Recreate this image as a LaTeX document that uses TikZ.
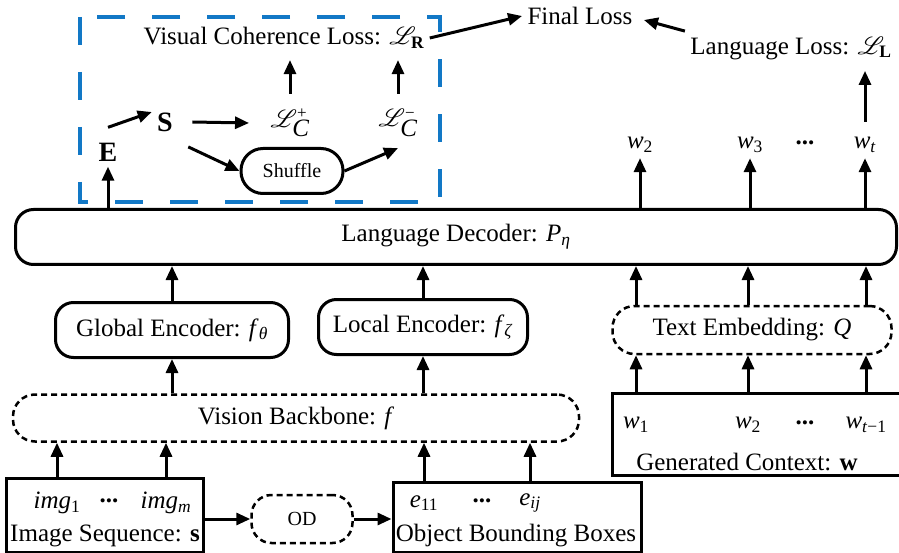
\documentclass[tikz,border=0pt]{standalone}
\usepackage{fontspec}
\setmainfont{Liberation Serif}
\usepackage{mathrsfs}
\usetikzlibrary{arrows.meta,positioning}
\definecolor{boxblue}{RGB}{18,120,198}
\newcommand{\itsub}[2]{\textit{#1}\textsubscript{#2}}
\newcommand{\lossC}[1]{$\mathscr{L}^{\raisebox{-1pt}{\fontsize{17}{17}\selectfont #1}}_{\textit{C}}$}

\begin{document}
\begin{tikzpicture}[x=1pt,y=-1pt,line width=3pt,
  >={Triangle[length=14pt,width=12pt]},
  every node/.style={font=\fontsize{25}{29}\selectfont,inner sep=4pt},
  block/.style={draw,rounded corners=18pt,minimum height=55pt},
  dblock/.style={draw,rounded corners=22pt,line width=2.5pt,dash pattern=on 6pt off 4pt,minimum height=48pt},
  sblock/.style={draw,line width=3pt,inner sep=0pt},
  small/.style={font=\fontsize{20}{24}\selectfont}]
\useasboundingbox (0,0) rectangle (899,553);

\draw[boxblue,line width=4pt,dash pattern=on 28pt off 27pt] (80,17) rectangle (440,202);

\node[block,minimum width=881pt] (dec) at (456,237) {Language Decoder: \itsub{P}{\textit{η}}};
\node[block,minimum width=233pt] (glob_enc) at (172,330) {Global Encoder: \itsub{f}{\textit{θ}}};
\node[block,minimum width=209pt] (loc_enc) at (423,327) {Local Encoder: \itsub{f}{\textit{ζ}}};
\node[dblock,minimum width=279pt] (txt_emb) at (752,330) {Text Embedding: \textit{Q}};
\node[dblock,minimum width=566pt,minimum height=47pt] (vis_bb) at (296,418) {Vision Backbone: \textit{f}};
\node[dblock,small,minimum width=101pt,rounded corners=20pt] (od) at (302,519) {OD};

\node[sblock,minimum width=197pt,minimum height=74pt] (img_seq) at (105,515) {};
\node (img_1) at (57,503) {\itsub{img}{1}};
\node (img_dots) at (109,501) {\textbf{...}};
\node (img_m) at (166,503) {\itsub{img}{\textit{m}}};
\node (img_lbl) at (105,536) {Image Sequence: \textbf{s}};

\node[sblock,minimum width=248pt,minimum height=70pt] (obj_box) at (517,517) {};
\node (e_11) at (424,503) {\itsub{e}{11}};
\node (e_dots) at (482,501) {\textbf{...}};
\node (e_ij) at (530,503) {\itsub{e}{\textit{ij}}};
\node (obj_lbl) at (516,536) {Object Bounding Boxes};

\node[sblock,minimum width=320pt,minimum height=82pt] (gen_ctx) at (772,434) {};
\node (ctx_1) at (636,425) {\itsub{w}{1}};
\node (ctx_2) at (748,425) {\itsub{w}{2}};
\node (ctx_dots) at (805,423) {\textbf{...}};
\node (ctx_t) at (866,425) {\itsub{w}{\textit{t}−1}};
\node (ctx_lbl) at (747,462) {Generated Context: \textbf{w}};

\node (out_2) at (640,145) {\itsub{w}{2}};
\node (out_3) at (750,145) {\itsub{w}{3}};
\node (out_dots) at (805,143) {\textbf{...}};
\node (out_t) at (865,145) {\itsub{w}{\textit{t}}};
\node (lang_loss) at (791,48) {Language Loss: $\mathscr{L}_{\mathbf{L}}$};
\node (final) at (580,16) {Final Loss};
\node (vcl) at (284,38) {Visual Coherence Loss: $\mathscr{L}_{\mathbf{R}}$};

\node[font=\fontsize{28}{32}\selectfont\bfseries] (E) at (108,152) {E};
\node[font=\fontsize{28}{32}\selectfont\bfseries] (S) at (165,122) {S};
\node (lc_pos) at (290,123) {\lossC{+}};
\node (lc_neg) at (398,123) {\lossC{−}};
\node[block,small,minimum width=102pt,minimum height=45pt,rounded corners=22pt] (shuffle) at (292,171) {Shuffle};

\path[->]
  (img_seq.north -| img_1) edge (vis_bb.south -| img_1)
  (img_seq.north -| img_m) edge (vis_bb.south -| img_m)
  (obj_box.north -| e_11) edge (vis_bb.south -| e_11)
  (obj_box.north -| e_ij) edge (vis_bb.south -| e_ij)
  (img_seq.east |- od) edge (od)
  (od) edge (obj_box.west |- od)
  (vis_bb.north -| glob_enc) edge (glob_enc)
  (vis_bb.north -| loc_enc) edge (loc_enc)
  (glob_enc) edge (dec.south -| glob_enc)
  (loc_enc) edge (dec.south -| loc_enc)
  (gen_ctx.north -| ctx_1) edge (txt_emb.south -| ctx_1)
  (gen_ctx.north -| ctx_2) edge (txt_emb.south -| ctx_2)
  (gen_ctx.north -| ctx_t) edge (txt_emb.south -| ctx_t)
  (txt_emb.north -| ctx_1) edge (dec.south -| ctx_1)
  (txt_emb.north -| ctx_2) edge (dec.south -| ctx_2)
  (txt_emb.north -| ctx_t) edge (dec.south -| ctx_t)
  (dec.north -| out_2) edge (out_2)
  (dec.north -| out_3) edge (out_3)
  (dec.north -| out_t) edge (out_t)
  (dec.north -| E) edge (E)
  ([yshift=10pt]out_t.north) edge ([yshift=-6pt]lang_loss.south -| out_t.north)
  (lang_loss.north west) edge ([shift={(6pt,-4pt)}]final.east)
  (vcl.east) edge (final.west)
  ([yshift=10pt]E.north) edge ([yshift=10pt]S.west)
  ([xshift=14pt]S.east) edge ([xshift=-16pt]lc_pos.west)
  ([shift={(10pt,-10pt)}]S.south east) edge (shuffle.west)
  (shuffle.east) edge ([yshift=-6pt]lc_neg.south)
  ([yshift=10pt]lc_pos.north) edge ([yshift=-6pt]vcl.south -| lc_pos.north)
  ([yshift=10pt]lc_neg.north) edge ([yshift=-6pt]vcl.south -| lc_neg.north);
\end{tikzpicture}
\end{document}
